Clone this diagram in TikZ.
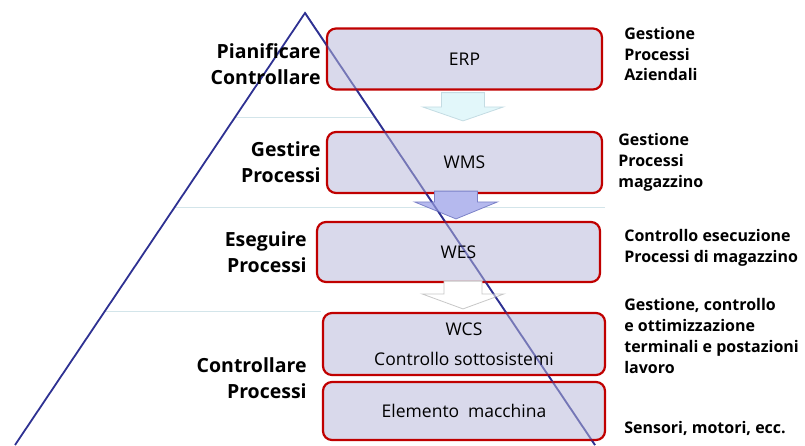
\documentclass[tikz,border=0pt]{standalone}
\usepackage{fontspec}
\setmainfont{Open Sans}
\usetikzlibrary{positioning,calc}

\definecolor{pyrblue}{HTML}{2E3192}
\definecolor{boxred}{HTML}{C00000}
\definecolor{boxfill}{HTML}{D0D0E6}
\definecolor{sepcol}{HTML}{D3E5EA}
\definecolor{cyanfill}{HTML}{E2F7FA}
\definecolor{cyandraw}{HTML}{C4DCE3}
\definecolor{lilafill}{HTML}{B5B9EE}
\definecolor{liladraw}{HTML}{7C82C8}

% block arrow: [style]{top}{tip}{shaft half}{head half}{head length}
\newcommand{\flowarrow}[6][]{%
  \path[flow,#1] ($(#2)+(-#4,0)$) -- ($(#3)+(-#4,-#6)$) -- ($(#3)+(-#5,-#6)$)
    -- (#3) -- ($(#3)+(#5,-#6)$) -- ($(#3)+(#4,-#6)$) -- ($(#2)+(#4,0)$) -- cycle;}

\begin{document}
\begin{tikzpicture}[
        x=1pt, y=-1pt,
        level/.style={draw=boxred, line width=2.2pt, fill=boxfill, fill opacity=0.8,
          text opacity=1, rounded corners=9pt, minimum width=275pt, minimum height=61pt,
          inner sep=0pt, align=center, font=\fontsize{17.5}{30}\selectfont},
        role/.style={inner sep=0pt, align=right, font=\fontsize{19.5}{26}\selectfont\bfseries},
        note/.style={inner sep=0pt, align=left, font=\fontsize{16}{20.7}\selectfont\bfseries},
        pyr/.style={draw=pyrblue, line width=1.8pt},
        sep/.style={draw=sepcol, line width=0.8pt},
        flow/.style={line width=0.8pt, line join=miter}
    ]
    \useasboundingbox (0,0) rectangle (805,445);

    % pyramid
    \coordinate (apex) at (305,13);
    \coordinate (bl) at (15,445);
    \coordinate (br) at (595,445);
    \draw[sep] (235,117) -- (375,117);
    \draw[sep] (175,207) -- (605,207);
    \draw[sep] (105,311) -- (321,311);
    \draw[pyr] (bl) -- (apex) -- (br);

    % levels
    \node[level] (ERP) at (464.5,59) {ERP};
    \node[level] (WMS) at (464.5,162.5) {WMS};
    \node[level, minimum width=283pt, minimum height=60pt] (WES) at (458.5,252) {WES};
    \node[level, minimum width=282pt, minimum height=62pt] (WCS) at (464,344) {WCS\\Controllo sottosistemi};
    \node[level, minimum width=282pt, minimum height=58pt] (EM) at (464,411) {Elemento\enspace macchina};

    % flow between levels
    \coordinate (a1top) at ($(ERP.south)+(-1.5,2)$);
    \coordinate (a1tip) at ($(WMS.north)+(-1.5,-10)$);
    \coordinate (a2top) at ($(WMS.south)+(-8.5,-3)$);
    \coordinate (a2tip) at ($(WES.north)+(-2.5,-2)$);
    \coordinate (a3top) at ($(WES.south)+(4.5,-2)$);
    \coordinate (a3tip) at ($(WCS.north)+(-1,-3)$);
    \flowarrow[fill=cyanfill, draw=cyandraw]{a1top}{a1tip}{21.5}{40.5}{14}
    \flowarrow[fill=lilafill, draw=liladraw]{a2top}{a2tip}{21.5}{41.5}{17}
    \flowarrow[fill=white, draw=black!22]{a3top}{a3tip}{19}{41}{15}
    \draw[pyr, draw opacity=0.45] (apex) -- (br);

    % left: what each level does
    \node[role, left=5pt of ERP, yshift=-5pt] (r1) {Pianificare\\Controllare};
    \node[role, left=5pt of WMS] (r2) {Gestire\\Processi};
    \node[role, left=9pt of WES] (r3) {Eseguire\\Processi};
    \node[role, left=15pt of WCS, yshift=-34pt] (r4) {Controllare\\Processi};

    % right: descriptions
    \node[note, right=21pt of ERP, yshift=5pt] (n1) {Gestione\\Processi\\Aziendali};
    \node[note, right=15pt of WMS] (n2) {Gestione\\Processi\\magazzino};
    \node[note, right=23pt of WES, yshift=4pt] (n3) {Controllo esecuzione\\Processi di magazzino};
    \node[note, right=18pt of WCS, yshift=8pt] (n4) {Gestione, controllo\\e ottimizzazione\\terminali e postazioni\\lavoro};
    \node[note, right=18pt of EM, yshift=-17pt] (n5) {Sensori, motori, ecc.};
\end{tikzpicture}
\end{document}
